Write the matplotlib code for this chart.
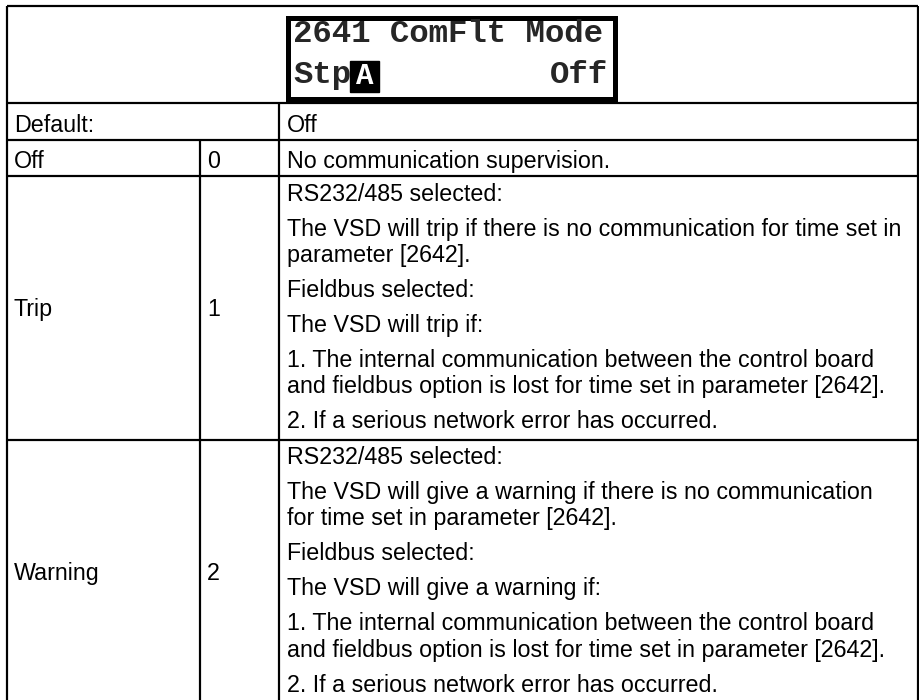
import matplotlib.pyplot as plt
from matplotlib.patches import Rectangle

# display text shown in the LCD header
lcd_title = "2641 ComFlt Mode"
lcd_step = "Stp"
lcd_cursor = "A"
lcd_value = "Off"

# default row
default_label = "Default:"
default_value = "Off"

# selections with their code and description paragraphs (lines as wrapped in the manual)
selections = ["Off", "Trip", "Warning"]
selection_codes = ["0", "1", "2"]
descriptions = [
    [["No communication supervision."]],
    [["RS232/485 selected:"],
     ["The VSD will trip if there is no communication for time set in",
      "parameter [2642]."],
     ["Fieldbus selected:"],
     ["The VSD will trip if:"],
     ["1. The internal communication between the control board",
      "and fieldbus option is lost for time set in parameter [2642]."],
     ["2. If a serious network error has occurred."]],
    [["RS232/485 selected:"],
     ["The VSD will give a warning if there is no communication",
      "for time set in parameter [2642]."],
     ["Fieldbus selected:"],
     ["The VSD will give a warning if:"],
     ["1. The internal communication between the control board",
      "and fieldbus option is lost for time set in parameter [2642]."],
     ["2. If a serious network error has occurred."]],
]

W, H = 919, 700
px = 72 / 100  # points per pixel

fig = plt.figure(figsize=(W / 100, H / 100), dpi=100)
ax = fig.add_axes([0, 0, 1, 1])
ax.set_xlim(0, W)
ax.set_ylim(H, 0)
ax.axis("off")

font = "Liberation Sans"
fs = 23.2 * px          # body text size
lw = 2.2 * px

# table geometry (pixels)
x_left, x_right = 7, 918
x_col1, x_col2 = 200, 279
y_top, y_head = 6, 103
para_pitch, wrap_pitch, single_h = 35, 26, 36.5

def row_height(paras):
    n_lines = sum(len(p) for p in paras)
    return single_h + (len(paras) - 1) * para_pitch + (n_lines - len(paras)) * wrap_pitch

def draw_paras(x, top, paras):
    # single-line cells sit a bit lower than the first line of a long cell
    y = top + (28.5 if len(paras) == 1 else 25)
    for p in paras:
        for i, line in enumerate(p):
            ax.text(x, y, line, family=font, fontsize=fs, va="baseline", ha="left")
            if i < len(p) - 1:
                y += wrap_pitch
        y += para_pitch

# outer frame
ax.hlines(y_top, x_left, x_right, color="black", lw=lw)
ax.vlines([x_left, x_right], y_top, H + 10, color="black", lw=lw)

# LCD box
ax.add_patch(Rectangle((287.5, 17.5), 327, 81, fill=False, edgecolor="black", lw=5 * px))
lcd_fs = 32.4 * px
lcd_col = "#262626"
ax.text(293, 42, lcd_title, family="Liberation Mono", weight="bold", fontsize=lcd_fs,
        color=lcd_col, va="baseline", ha="left")
ax.text(293, 83, lcd_step, family="Liberation Mono", weight="bold", fontsize=lcd_fs,
        color=lcd_col, va="baseline", ha="left")
ax.text(608, 83, lcd_value, family="Liberation Mono", weight="bold", fontsize=lcd_fs,
        color=lcd_col, va="baseline", ha="right")
ax.add_patch(Rectangle((350, 61), 29, 31, color="black"))
ax.text(364.5, 84, lcd_cursor, family="Liberation Mono", weight="bold", fontsize=lcd_fs * 0.9,
        color="white", va="baseline", ha="center")

# default row
top = y_head
ax.hlines(top, x_left, x_right, color="black", lw=lw)
ax.text(x_left + 7, top + 28.5, default_label, family=font, fontsize=fs, va="baseline")
ax.text(x_col2 + 8, top + 28.5, default_value, family=font, fontsize=fs, va="baseline")
top += single_h
ax.vlines(x_col2, y_head, H + 10, color="black", lw=lw)
ax.vlines(x_col1, top, H + 10, color="black", lw=lw)

# selection rows
for name, code, paras in zip(selections, selection_codes, descriptions):
    ax.hlines(top, x_left, x_right, color="black", lw=lw)
    h = row_height(paras)
    mid = top + h / 2
    base = top + 28.5 if len(paras) == 1 else mid + 8.4
    ax.text(x_left + 7, base, name, family=font, fontsize=fs, va="baseline")
    ax.text(x_col1 + 7, base, code, family=font, fontsize=fs, va="baseline")
    draw_paras(x_col2 + 8, top, paras)
    top += h

fig.savefig("out.png", dpi=100, facecolor="white")
